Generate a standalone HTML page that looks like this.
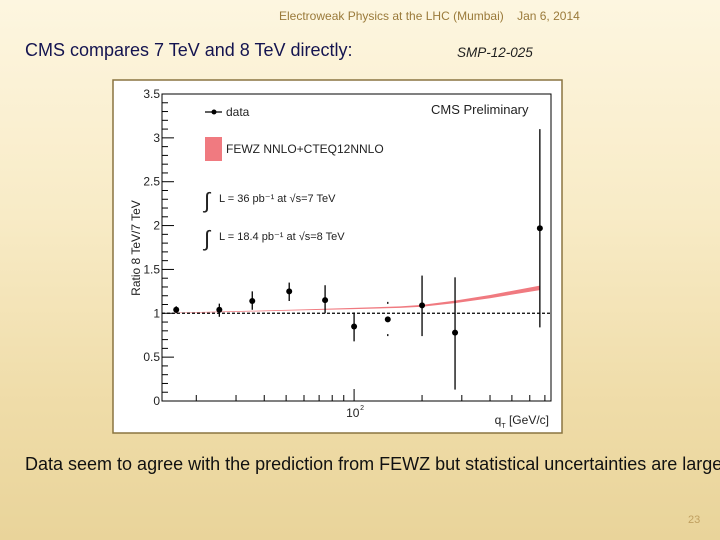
<!DOCTYPE html>
<html><head><meta charset="utf-8"><style>
body{margin:0;width:720px;height:540px;overflow:hidden;font-family:"Liberation Sans",sans-serif;
background:linear-gradient(180deg,#fdf6e0 0%,#f8ebc6 40%,#efdca8 75%,#e9d49a 100%);position:relative}
.t{position:absolute;white-space:nowrap}
</style></head><body>
<div class="t" style="left:279px;top:9px;font-size:12px;color:#9a7a3a">Electroweak Physics at the LHC (Mumbai) &nbsp;&nbsp; Jan 6, 2014</div>
<div class="t" style="left:25px;top:40px;font-size:18px;color:#141450">CMS compares 7 TeV and 8 TeV directly:</div>
<div class="t" style="left:457px;top:45px;font-size:13.5px;font-style:italic;color:#222">SMP-12-025</div>
<div class="t" style="left:25px;top:454px;font-size:18px;color:#111">Data seem to agree with the prediction from FEWZ but statistical uncertainties are large</div>
<div class="t" style="left:688px;top:514px;font-size:11px;color:#c0a060">23</div>
<svg id="chart" style="position:absolute;left:0;top:0" width="720" height="540" font-family="Liberation Sans, sans-serif"></svg>
<script>
const xVals=[16.3,25.3,35.4,51.6,74.4,100,141,200,280,665];
const yVals=[1.04,1.04,1.14,1.25,1.15,0.85,0.93,1.09,0.78,1.97];
const yLo=[1.0,0.96,1.04,1.14,1.0,0.68,0.74,0.74,0.13,0.84];
const yHi=[1.08,1.11,1.25,1.35,1.32,1.01,1.13,1.43,1.41,3.10];
const bandX=[16,30,60,100,160,200,280,400,665];
const bandC=[1.005,1.02,1.04,1.055,1.07,1.085,1.13,1.19,1.29];
const bandW=[0.003,0.004,0.005,0.007,0.009,0.011,0.014,0.018,0.026];
const yTicks=[0,0.5,1,1.5,2,2.5,3,3.5];
const yTickLabels=["0","0.5","1","1.5","2","2.5","3","3.5"];
const L=162,R=551,T=94,B=401,XMIN=14.1,XMAX=745,YMAX=3.5;
const sx=v=>L+(Math.log10(v)-Math.log10(XMIN))/(Math.log10(XMAX)-Math.log10(XMIN))*(R-L);
const sy=v=>B-v/YMAX*(B-T);
const svg=document.getElementById('chart');const NS='http://www.w3.org/2000/svg';
function mk(tag,a,p){const e=document.createElementNS(NS,tag);for(const k in a)e.setAttribute(k,a[k]);(p||svg).appendChild(e);return e;}
const box=mk('rect',{x:113,y:80,width:449,height:353,fill:'#fff',stroke:'#8a7440','stroke-width':1.5});


const frame=mk('rect',{x:L,y:T,width:R-L,height:B-T,fill:'none',stroke:'#000','stroke-width':1});


for(let i=0;i<yTicks.length;i++){const y=sy(yTicks[i]);
mk('line',{x1:L,x2:L+12,y1:y,y2:y,stroke:'#000'});
const t=mk('text',{x:L-2,y:y+4,'text-anchor':'end','font-size':12,fill:'#222'});t.textContent=yTickLabels[i];


if(i<yTicks.length-1)for(let j=1;j<5;j++){const yy=sy(yTicks[i]+j*0.1);mk('line',{x1:L,x2:L+6,y1:yy,y2:yy,stroke:'#000'});}}
[20,30,40,50,60,70,80,90,100,200,300,400,500,600,700].forEach(v=>{const x=sx(v);mk('line',{x1:x,x2:x,y1:B,y2:B-(v==100?12:6),stroke:'#000'});});
const xl=mk('text',{x:sx(100)-8,y:B+16,'font-size':12,fill:'#222'});xl.textContent='10';


mk('text',{x:sx(100)+6,y:B+9,'font-size':7,fill:'#222'}).textContent='2';
const xt=mk('text',{x:549,y:424,'text-anchor':'end','font-size':12,fill:'#222'});


xt.innerHTML='q<tspan font-size="7" dy="4">T</tspan><tspan dy="-4"> [GeV/c]</tspan>';
const yt=mk('text',{x:140,y:248,'text-anchor':'middle','font-size':12,fill:'#222',transform:'rotate(-90 140 248)'});yt.textContent='Ratio 8 TeV/7 TeV';


let up=bandX.map((x,i)=>sx(x)+','+sy(bandC[i]+bandW[i])),dn=bandX.map((x,i)=>sx(x)+','+sy(bandC[i]-bandW[i])).reverse();
const band=mk('polygon',{points:up.concat(dn).join(' '),fill:'#f07a80'});


const ref=mk('line',{x1:L,x2:R,y1:sy(1),y2:sy(1),stroke:'#000','stroke-dasharray':'3,2','stroke-width':1.3});


for(let i=0;i<xVals.length;i++){const x=sx(xVals[i]);const g=mk('g',{});


if(i==6){mk('line',{x1:x,x2:x,y1:sy(yHi[i]),y2:sy(yHi[i])+2,stroke:'#000','stroke-width':1.3},g);mk('line',{x1:x,x2:x,y1:sy(yLo[i]),y2:sy(yLo[i])-2,stroke:'#000','stroke-width':1.3},g);}
else mk('line',{x1:x,x2:x,y1:sy(yHi[i]),y2:sy(yLo[i]),stroke:'#000','stroke-width':1.3},g);
mk('circle',{cx:x,cy:sy(yVals[i]),r:3,fill:'#000'},g);}
const lg=mk('g',{});
mk('line',{x1:205,x2:222,y1:112,y2:112,stroke:'#000','stroke-width':1.3},lg);mk('circle',{cx:214,cy:112,r:2.5,fill:'#000'},lg);
mk('text',{x:226,y:116,'font-size':12,fill:'#222'},lg).textContent='data';
mk('rect',{x:205,y:137,width:17,height:24,fill:'#f07a80'},lg);
mk('text',{x:226,y:153,'font-size':12,fill:'#222'},lg).textContent='FEWZ NNLO+CTEQ12NNLO';
mk('text',{x:431,y:114,'font-size':13,fill:'#222'},lg).textContent='CMS Preliminary';
mk('text',{x:204,y:208,'font-size':22,fill:'#222'},lg).textContent='∫';
mk('text',{x:219,y:202,'font-size':11,fill:'#222'},lg).textContent='L = 36 pb⁻¹ at √s=7 TeV';
mk('text',{x:204,y:246,'font-size':22,fill:'#222'},lg).textContent='∫';
mk('text',{x:219,y:240,'font-size':11,fill:'#222'},lg).textContent='L = 18.4 pb⁻¹ at √s=8 TeV';
</script>
</body></html>
